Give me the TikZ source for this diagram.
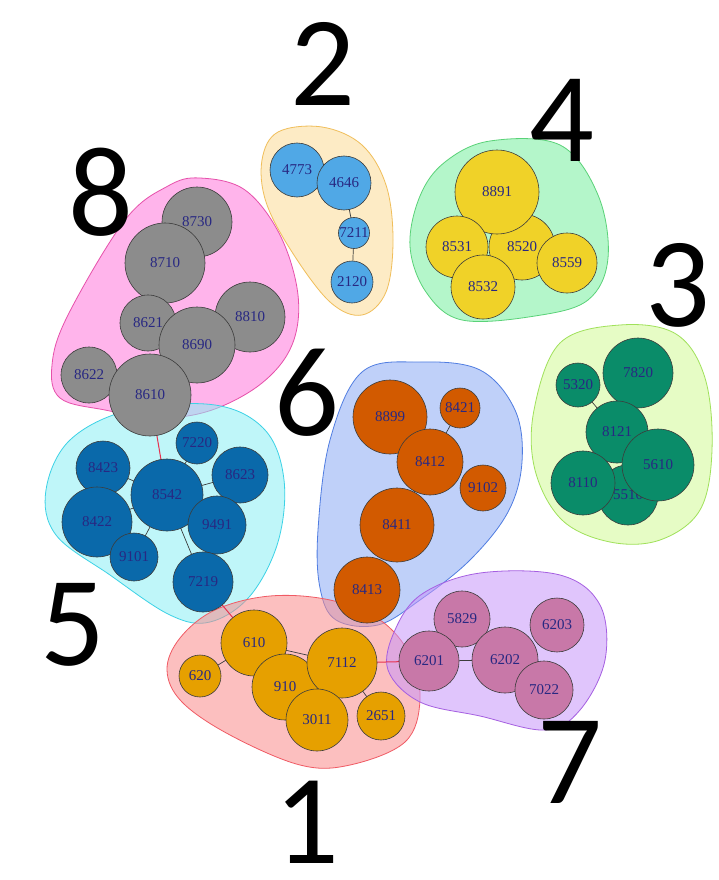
\documentclass[tikz,border=0pt]{standalone}
\usepackage{fontspec}
\setmainfont{Liberation Serif}
\newfontfamily\bigdigits{Carlito}
\pgfdeclarelayer{hulls}
\pgfdeclarelayer{edges}
\pgfsetlayers{hulls,edges,main}
\begin{document}
\begin{tikzpicture}[x=1pt,y=-1pt,
  cnode/.style={circle,draw={rgb,255:red,60;green,60;blue,60},line width=0.6pt,inner sep=0pt,
    font=\fontsize{15}{15}\selectfont,text={rgb,255:red,40;green,40;blue,130}},
  hull/.style={line width=0.8pt,fill opacity=0.55,draw opacity=1},
  inedge/.style={draw={rgb,255:red,60;green,60;blue,60},line width=0.7pt},
  xedge/.style={draw={rgb,255:red,230;green,50;blue,80},line width=1pt},
  bignum/.style={inner sep=0pt,font=\bigdigits\fontsize{128}{128}\selectfont}
]
\definecolor{cgray}{RGB}{140,140,140}
\definecolor{cblue}{RGB}{80,168,230}
\definecolor{cyel}{RGB}{240,210,40}
\definecolor{cteal}{RGB}{10,140,105}
\definecolor{cdblue}{RGB}{10,105,170}
\definecolor{corange}{RGB}{210,90,0}
\definecolor{cgold}{RGB}{230,160,0}
\definecolor{cmauve}{RGB}{200,120,168}
\useasboundingbox (0,0) rectangle (718,880);

\begin{pgfonlayer}{hulls}
\fill[white] (0,0) rectangle (718,880);
\draw[hull,draw={rgb,255:red,230;green,80;blue,170},fill={rgb,255:red,255;green,120;blue,220}]
  plot[smooth cycle,tension=0.6] coordinates {(200,178) (245,190) (280,235) (298,295) (292,345) (262,383) (212,410) (160,418) (105,410) (60,398) (52,365) (68,315) (125,220) (168,186)};
\draw[hull,draw={rgb,255:red,240;green,190;blue,90},fill={rgb,255:red,253;green,220;blue,150}]
  plot[smooth cycle,tension=0.6] coordinates {(278,132) (322,127) (362,145) (386,185) (393,240) (386,292) (362,315) (330,302) (292,252) (266,202) (262,160)};
\draw[hull,draw={rgb,255:red,90;green,210;blue,120},fill={rgb,255:red,120;green,240;blue,160}]
  plot[smooth cycle,tension=0.6] coordinates {(445,162) (490,141) (560,145) (598,195) (608,258) (588,300) (535,316) (462,320) (426,292) (410,246) (420,196)};
\draw[hull,draw={rgb,255:red,160;green,225;blue,90},fill={rgb,255:red,210;green,250;blue,150}]
  plot[smooth cycle,tension=0.6] coordinates {(560,343) (620,325) (676,334) (705,378) (712,450) (700,510) (660,540) (610,542) (562,520) (535,470) (534,410)};
\draw[hull,draw={rgb,255:red,60;green,210;blue,230},fill={rgb,255:red,140;green,240;blue,245}]
  plot[smooth cycle,tension=0.6] coordinates {(130,410) (215,405) (265,430) (284,480) (278,542) (250,596) (210,622) (170,615) (110,575) (56,535) (46,490) (70,440)};
\draw[hull,draw={rgb,255:red,80;green,125;blue,225},fill={rgb,255:red,140;green,170;blue,245}]
  plot[smooth cycle,tension=0.6] coordinates {(362,372) (420,362) (480,370) (515,410) (522,462) (508,512) (470,560) (420,600) (378,625) (336,620) (320,588) (318,530) (330,440)};
\draw[hull,draw={rgb,255:red,240;green,90;blue,100},fill={rgb,255:red,250;green,140;blue,140}]
  plot[smooth cycle,tension=0.6] coordinates {(215,610) (270,596) (330,600) (380,620) (410,655) (420,700) (405,742) (350,765) (300,765) (230,735) (182,702) (167,670) (180,638)};
\draw[hull,draw={rgb,255:red,165;green,95;blue,225},fill={rgb,255:red,200;green,150;blue,250}]
  plot[smooth cycle,tension=0.6] coordinates {(422,594) (480,573) (560,575) (600,605) (605,660) (580,710) (545,730) (480,716) (420,702) (388,670) (395,630)};
\end{pgfonlayer}

% nodes: cluster 8
\node[cnode,fill=cgray,minimum size=70pt] (n8730) at (197,222) {8730};
\node[cnode,fill=cgray,minimum size=80pt] (n8710) at (165,263) {8710};
\node[cnode,fill=cgray,minimum size=56pt] (n8621) at (148,323) {8621};
\node[cnode,fill=cgray,minimum size=70pt] (n8810) at (250,317) {8810};
\node[cnode,fill=cgray,minimum size=76pt] (n8690) at (197,345) {8690};
\node[cnode,fill=cgray,minimum size=56pt] (n8622) at (89,375) {8622};
\node[cnode,fill=cgray,minimum size=82pt] (n8610) at (150,395) {8610};
% cluster 2
\node[cnode,fill=cblue,minimum size=54pt] (n4773) at (297,170) {4773};
\node[cnode,fill=cblue,minimum size=54pt] (n4646) at (344,183) {4646};
\node[cnode,fill=cblue,minimum size=27pt] (n7211) at (354,233) {7211};
\node[cnode,fill=cblue,minimum size=42pt] (n2120) at (352,282) {2120};
% cluster 4
\node[cnode,fill=cyel,minimum size=66pt] (n8520) at (522,247) {8520};
\node[cnode,fill=cyel,minimum size=84pt] (n8891) at (497,192) {8891};
\node[cnode,fill=cyel,minimum size=62pt] (n8531) at (457,247) {8531};
\node[cnode,fill=cyel,minimum size=60pt] (n8559) at (567,263) {8559};
\node[cnode,fill=cyel,minimum size=64pt] (n8532) at (483,287) {8532};
% cluster 3
\node[cnode,fill=cteal,minimum size=44pt] (n5320) at (578,385) {5320};
\node[cnode,fill=cteal,minimum size=70pt] (n7820) at (638,373) {7820};
\node[cnode,fill=cteal,minimum size=62pt] (n8121) at (617,432) {8121};
\node[cnode,fill=cteal,minimum size=60pt] (n5510) at (628,495) {5510};
\node[cnode,fill=cteal,minimum size=72pt] (n5610) at (658,465) {5610};
\node[cnode,fill=cteal,minimum size=64pt] (n8110) at (583,483) {8110};
% cluster 5
\node[cnode,fill=cdblue,minimum size=42pt] (n7220) at (197,443) {7220};
\node[cnode,fill=cdblue,minimum size=54pt] (n8423) at (103,468) {8423};
\node[cnode,fill=cdblue,minimum size=56pt] (n8623) at (240,475) {8623};
\node[cnode,fill=cdblue,minimum size=72pt] (n8542) at (167,495) {8542};
\node[cnode,fill=cdblue,minimum size=70pt] (n8422) at (97,522) {8422};
\node[cnode,fill=cdblue,minimum size=58pt] (n9491) at (217,525) {9491};
\node[cnode,fill=cdblue,minimum size=48pt] (n9101) at (134,557) {9101};
\node[cnode,fill=cdblue,minimum size=60pt] (n7219) at (203,582) {7219};
% cluster 6
\node[cnode,fill=corange,minimum size=74pt] (n8899) at (390,417) {8899};
\node[cnode,fill=corange,minimum size=40pt] (n8421) at (460,408) {8421};
\node[cnode,fill=corange,minimum size=66pt] (n8412) at (430,462) {8412};
\node[cnode,fill=corange,minimum size=46pt] (n9102) at (483,488) {9102};
\node[cnode,fill=corange,minimum size=74pt] (n8411) at (397,525) {8411};
\node[cnode,fill=corange,minimum size=66pt] (n8413) at (367,590) {8413};
% cluster 1
\node[cnode,fill=cgold,minimum size=66pt] (n610) at (254,643) {610};
\node[cnode,fill=cgold,minimum size=42pt] (n620) at (200,676) {620};
\node[cnode,fill=cgold,minimum size=66pt] (n910) at (285,687) {910};
\node[cnode,fill=cgold,minimum size=70pt] (n7112) at (342,663) {7112};
\node[cnode,fill=cgold,minimum size=62pt] (n3011) at (317,720) {3011};
\node[cnode,fill=cgold,minimum size=48pt] (n2651) at (381,716) {2651};
% cluster 7
\node[cnode,fill=cmauve,minimum size=56pt] (n5829) at (462,619) {5829};
\node[cnode,fill=cmauve,minimum size=54pt] (n6203) at (557,625) {6203};
\node[cnode,fill=cmauve,minimum size=60pt] (n6201) at (429,661) {6201};
\node[cnode,fill=cmauve,minimum size=66pt] (n6202) at (505,660) {6202};
\node[cnode,fill=cmauve,minimum size=58pt] (n7022) at (544,690) {7022};

% edges (behind nodes)
\begin{pgfonlayer}{edges}
\draw[inedge] (n4646.center) -- (n7211.center) -- (n2120.center);
\draw[inedge] (n5320.center) -- (n8121.center) -- (n5510.center);
\draw[inedge] (n8542.center) -- (n7220.center);
\draw[inedge] (n8542.center) -- (n8623.center);
\draw[inedge] (n8542.center) -- (n8423.center);
\draw[inedge] (n8542.center) -- (n8422.center);
\draw[inedge] (n8542.center) -- (n9101.center);
\draw[inedge] (n8542.center) -- (n9491.center);
\draw[inedge] (n8542.center) -- (n7219.center);
\draw[inedge] (n8421.center) -- (n8412.center) -- (n8411.center);
\draw[inedge] (n620.center) -- (n610.center) -- (n7112.center) -- (n2651.center);
\draw[inedge] (n6201.center) -- (n6202.center);
\draw[xedge] (n8610.center) -- (n8542.center);
\draw[xedge] (n7219.center) -- (n610.center);
\draw[xedge] (n7112.center) -- (n6201.center);
\end{pgfonlayer}

% big numbers
\node[bignum] (l2) at (323,64) {2};
\node[bignum] (l4) at (562,120) {4};
\node[bignum] (l8) at (101,192) {8};
\node[bignum] (l3) at (678,285) {3};
\node[bignum] (l6) at (307,393) {6};
\node[bignum] (l5) at (73,625) {5};
\node[bignum] (l1) at (307,822) {1};
\node[bignum] (l7) at (570,762) {7};
\end{tikzpicture}
\end{document}
